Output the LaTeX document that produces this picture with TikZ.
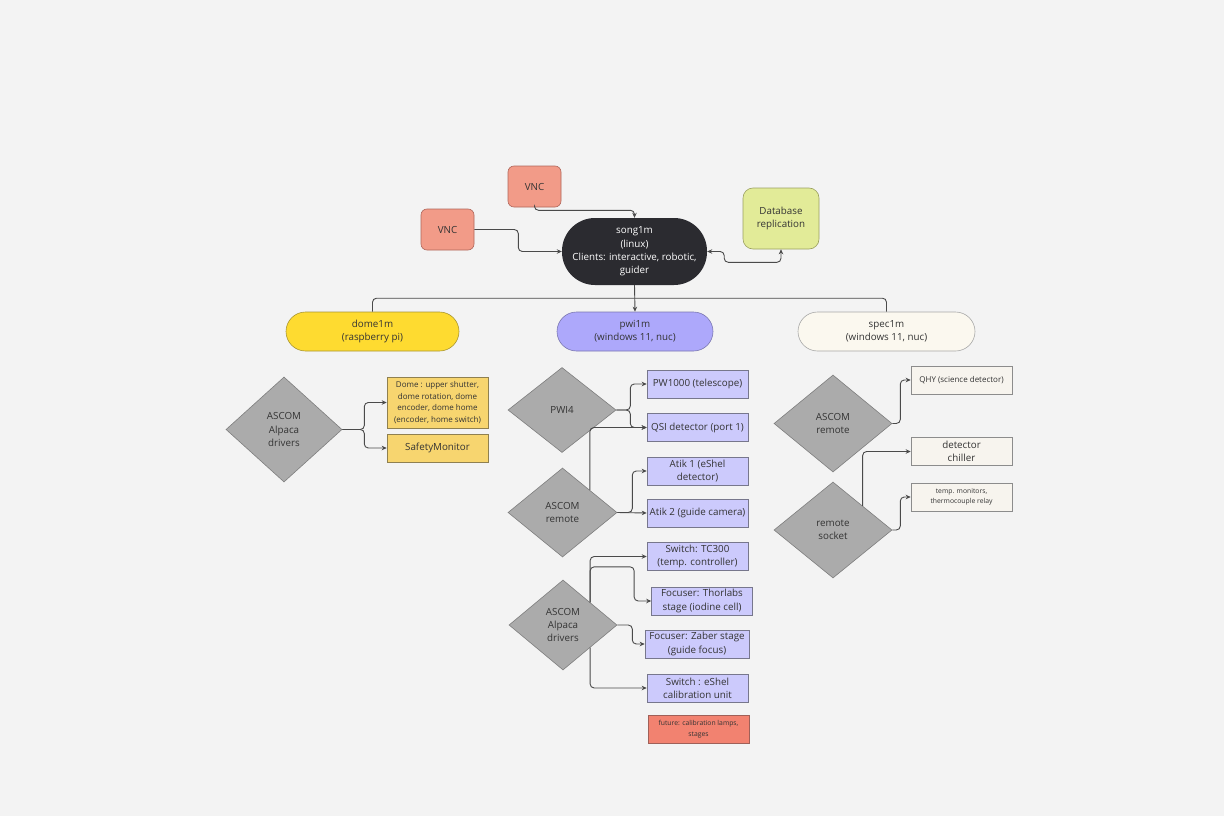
\documentclass[tikz,border=0pt]{standalone}
\usepackage{fontspec}
\setmainfont{Open Sans}
\usetikzlibrary{shapes.geometric,arrows.meta}
\definecolor{bgcol}{HTML}{F3F3F3}
\definecolor{txt}{HTML}{333333}
\definecolor{lncol}{HTML}{4A4A4A}
\definecolor{vncfill}{HTML}{F29B88}
\definecolor{vncdraw}{HTML}{B0665A}
\definecolor{songfill}{HTML}{2B2B30}
\definecolor{dbfill}{HTML}{E2EB98}
\definecolor{dbdraw}{HTML}{9AA060}
\definecolor{domefill}{HTML}{FEDB30}
\definecolor{domedraw}{HTML}{A89530}
\definecolor{pwifill}{HTML}{ADA8FB}
\definecolor{pwidraw}{HTML}{7A77B0}
\definecolor{specfill}{HTML}{FBF8EF}
\definecolor{specdraw}{HTML}{A8A8A8}
\definecolor{diafill}{HTML}{ABABAB}
\definecolor{diadraw}{HTML}{7E7E7E}
\definecolor{yboxfill}{HTML}{F7D56F}
\definecolor{yboxdraw}{HTML}{8F8050}
\definecolor{pboxfill}{HTML}{CCCAFC}
\definecolor{pboxdraw}{HTML}{77778C}
\definecolor{futfill}{HTML}{F28270}
\definecolor{futdraw}{HTML}{9F6058}
\definecolor{sboxfill}{HTML}{F7F4EE}
\definecolor{sboxdraw}{HTML}{8C8C8C}
\begin{document}
\begin{tikzpicture}[x=1pt,y=-1pt,
  base/.style={font=\fontsize{9.8}{13.3}\selectfont, text=txt, align=center, inner sep=0pt},
  small/.style={font=\fontsize{8}{11.7}\selectfont},
  tiny/.style={font=\fontsize{6.8}{10.5}\selectfont},
  vnc/.style={base, rectangle, rounded corners=6pt, fill=vncfill, draw=vncdraw, line width=0.6pt, minimum width=53pt, minimum height=41pt},
  pill/.style={base, rectangle, rounded corners=19.5pt, line width=0.6pt, minimum height=39pt},
  dia/.style={base, diamond, fill=diafill, draw=diadraw, line width=0.6pt},
  ybox/.style={base, rectangle, fill=yboxfill, draw=yboxdraw, line width=0.6pt, minimum width=101pt, minimum height=28pt},
  pbox/.style={base, rectangle, fill=pboxfill, draw=pboxdraw, line width=0.6pt, minimum width=101pt, minimum height=28pt},
  sbox/.style={base, rectangle, fill=sboxfill, draw=sboxdraw, line width=0.6pt, minimum width=101pt, minimum height=28pt},
  conn/.style={draw=lncol, line width=0.9pt, rounded corners=4pt},
  arr/.style={conn, -{Stealth[length=5pt,width=4.5pt]}},
  darr/.style={conn, {Stealth[length=5pt,width=4.5pt]}-{Stealth[length=5pt,width=4.5pt]}}
]
\fill[bgcol] (0,0) rectangle (1224,816);
\useasboundingbox (0,0) rectangle (1224,816);

% top
\node[vnc] (vncA) at (534.5,186.5) {VNC};
\node[vnc] (vncB) at (447.5,229.5) {VNC};
\node[base, rectangle, rounded corners=33pt, fill=songfill, text=white, minimum width=145pt, minimum height=67pt] (song) at (634.5,251.5) {song1m\\(linux)\\Clients: interactive, robotic,\\guider};
\node[base, rectangle, rounded corners=10pt, fill=dbfill, draw=dbdraw, line width=0.6pt, minimum width=76pt, minimum height=61pt] (db) at (781,218.5) {Database\\replication};
\node[pill, fill=domefill, draw=domedraw, minimum width=173pt] (dome) at (372.5,331.5) {dome1m\\(raspberry pi)};
\node[pill, fill=pwifill, draw=pwidraw, minimum width=156pt] (pwi) at (635,331.5) {pwi1m\\(windows 11, nuc)};
\node[pill, fill=specfill, draw=specdraw, minimum width=177pt] (spec) at (886.5,331.5) {spec1m\\(windows 11, nuc)};

\draw[arr] (vncA.south) -- ++(0,3) -| (song.north);
\draw[arr] (vncB.east) -- ++(44,0) |- (song.west);
\draw[darr] (song.east) -- ++(17,0) |- ([yshift=-13pt]db.south) -- (db.south);
\draw[arr] (song.south) -- (pwi.north);
\draw[conn] ([yshift=-13pt]song.south) -| (dome.north);
\draw[conn] ([yshift=-13pt]song.south) -| (spec.north);

% left
\node[dia, minimum width=116pt, minimum height=105pt] (alpL) at (284,429.5) {ASCOM\\Alpaca\\drivers};
\node[ybox, small, minimum height=51pt] (domebox) at (437.5,402.5) {Dome : upper shutter,\\dome rotation, dome\\encoder, dome home\\(encoder, home switch)};
\node[ybox] (safety) at (437.5,448) {SafetyMonitor};
\draw[arr] (alpL.east) -- ++(22,0) |- (domebox.west);
\draw[arr] (alpL.east) -- ++(22,0) |- (safety.west);

% middle
\node[dia, minimum width=108pt, minimum height=85pt] (pwi4) at (562,410) {PWI4};
\node[pbox] (pw1000) at (697.5,384) {PW1000 (telescope)};
\node[pbox] (qsi) at (697.5,427.5) {QSI detector (port 1)};
\node[pbox] (atik1) at (697.5,471) {Atik 1 (eShel\\detector)};
\node[pbox] (atik2) at (697.5,513) {Atik 2 (guide camera)};
\node[dia, minimum width=109pt, minimum height=89pt] (remM) at (562.5,512.5) {ASCOM\\remote};
\node[pbox] (tc300) at (697.5,556.5) {Switch: TC300\\(temp. controller)};
\node[pbox] (thor) at (702,601) {Focuser: Thorlabs\\stage (iodine cell)};
\node[pbox, minimum width=104pt] (zaber) at (697,644) {Focuser: Zaber stage\\(guide focus)};
\node[pbox] (eshel) at (697.5,688) {Switch : eShel\\calibration unit};
\node[base, tiny, rectangle, fill=futfill, draw=futdraw, line width=0.6pt, minimum width=101pt, minimum height=28pt] (future) at (698.5,729) {future: calibration lamps,\\stages};
\node[dia, minimum width=108pt, minimum height=90pt] (alpM) at (563,625) {ASCOM\\Alpaca\\drivers};

\draw[arr] (pwi4.east) -- ++(14,0) |- (pw1000.west);
\draw[arr] (pwi4.east) -- ++(14,0) |- (qsi.west);
\draw[arr] (remM.north east) |- (qsi.west);
\draw[arr] (remM.east) -- ++(15,0) |- (atik1.west);
\draw[arr] (remM.east) -- (atik2.west);
\draw[arr] (alpM.north east) |- (tc300.west);
\draw[arr] (alpM.north east) -- ++(0,-35.5) -- ++(44,0) |- (thor.west);
\draw[arr] (alpM.east) -- ++(15,0) |- (zaber.west);
\draw[arr] (alpM.south east) |- (eshel.west);

% right
\node[dia, minimum width=118pt, minimum height=97pt] (remR) at (833,423.5) {ASCOM\\remote};
\node[sbox, small] (qhy) at (961.5,380) {QHY (science detector)};
\node[sbox] (chiller) at (961.5,451.5) {detector\\chiller};
\node[sbox, tiny] (tempm) at (961.5,497) {temp. monitors,\\thermocouple relay};
\node[dia, minimum width=118pt, minimum height=96pt] (sock) at (833,530) {remote\\socket};

\draw[arr] (remR.east) -- ++(8,0) |- (qhy.west);
\draw[arr] (sock.north east) |- (chiller.west);
\draw[arr] (sock.east) -- ++(8,0) |- (tempm.west);
\end{tikzpicture}
\end{document}
